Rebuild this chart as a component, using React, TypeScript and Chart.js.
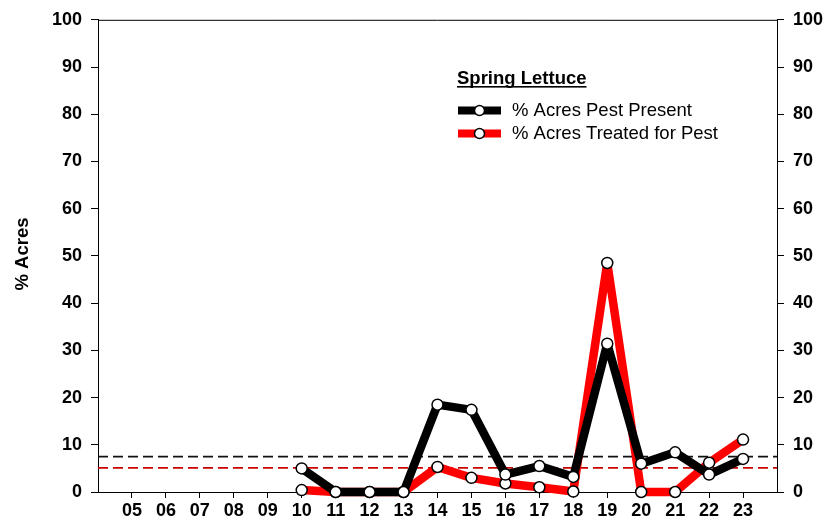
import React, { useEffect, useRef } from "react";
import { Chart, registerables } from "chart.js";

Chart.register(...registerables);

const years = ["10", "11", "12", "13", "14", "15", "16", "17", "18", "19", "20", "21", "22", "23"];
const pestPresent = [5.0, 0, 0, 0, 18.5, 17.4, 3.7, 5.5, 3.2, 31.4, 6.0, 8.4, 3.7, 7.0];
const treated = [0.4, 0, 0, 0, 5.3, 3.0, 1.8, 1.0, 0.1, 48.5, 0, 0, 6.2, 11.1];
const xTicks = [5, 6, 7, 8, 9, 10, 11, 12, 13, 14, 15, 16, 17, 18, 19, 20, 21, 22, 23];
const yTicks = [0, 10, 20, 30, 40, 50, 60, 70, 80, 90, 100];
const presentAvg = 7.5;
const treatedAvg = 5.1;
const legendTitle = "Spring Lettuce";
const seriesNames = ["% Acres Pest Present", "% Acres Treated for Pest"];
const yTitle = "% Acres";

const FONT = "'Liberation Sans', Arial, sans-serif";

const overlay = {
  id: "overlay",
  beforeDatasetsDraw(chart: any) {
    const { ctx, chartArea } = chart;
    const y = chart.scales.y;
    ctx.save();
    ctx.lineWidth = 1.6;
    ctx.setLineDash([10, 5]);
    [[presentAvg, "#111111"], [treatedAvg, "#cc0000"]].forEach(([v, c]: any) => {
      const py = y.getPixelForValue(v);
      ctx.strokeStyle = c;
      ctx.beginPath();
      ctx.moveTo(chartArea.left, py);
      ctx.lineTo(chartArea.right, py);
      ctx.stroke();
    });
    ctx.restore();
  },
  afterDraw(chart: any) {
    const { ctx, chartArea } = chart;
    ctx.save();
    ctx.strokeStyle = "#000";
    ctx.lineWidth = 1;
    ctx.beginPath();
    ctx.moveTo(chartArea.left, chartArea.top + 0.5);
    ctx.lineTo(chartArea.right, chartArea.top + 0.5);
    ctx.stroke();

    // y title
    ctx.save();
    ctx.translate(22.5, 254);
    ctx.rotate(-Math.PI / 2);
    ctx.font = `bold 18.5px ${FONT}`;
    ctx.fillStyle = "#000";
    ctx.textAlign = "center";
    ctx.textBaseline = "middle";
    ctx.fillText(yTitle, 0, 0);
    ctx.restore();

    // legend
    ctx.fillStyle = "#000";
    ctx.font = `bold 18.5px ${FONT}`;
    ctx.textAlign = "left";
    ctx.textBaseline = "alphabetic";
    ctx.fillText(legendTitle, 457, 84);
    const tw = ctx.measureText(legendTitle).width;
    ctx.fillRect(457, 86, tw, 1.6);

    const rows = [
      { y: 110.5, color: "#000000", text: seriesNames[0] },
      { y: 133.5, color: "#ff0000", text: seriesNames[1] },
    ];
    rows.forEach((r) => {
      ctx.strokeStyle = r.color;
      ctx.lineWidth = 8;
      ctx.setLineDash([]);
      ctx.beginPath();
      ctx.moveTo(458, r.y);
      ctx.lineTo(501, r.y);
      ctx.stroke();
      ctx.beginPath();
      ctx.arc(479.5, r.y, 5, 0, Math.PI * 2);
      ctx.fillStyle = "#fff";
      ctx.fill();
      ctx.lineWidth = 1.5;
      ctx.strokeStyle = "#000";
      ctx.stroke();
      ctx.fillStyle = "#000";
      ctx.font = `18.5px ${FONT}`;
      ctx.textBaseline = "middle";
      ctx.fillText(r.text, 512, r.y);
    });
    ctx.restore();
  },
};

export default function App() {
  const ref = useRef<HTMLCanvasElement>(null);
  useEffect(() => {
    if (!ref.current) return;
    const mk = (vals: number[]) => years.map((yr, i) => ({ x: Number(yr), y: vals[i] }));
    const ds = (label: string, vals: number[], color: string) => ({
      label,
      data: mk(vals),
      borderColor: color,
      backgroundColor: color,
      borderWidth: 8.5,
      borderJoinStyle: "bevel" as const,
      pointRadius: 5.5,
      pointBackgroundColor: "#ffffff",
      pointBorderColor: "#000000",
      pointBorderWidth: 1.5,
      tension: 0,
      clip: false as const,
    });
    const tickFont = { family: FONT, size: 18, weight: "bold" as const };
    const yAxis = (pos: "left" | "right", width: number) => ({
      type: "linear" as const,
      position: pos,
      min: 0,
      max: 100,
      afterBuildTicks: (s: any) => {
        s.ticks = yTicks.map((v) => ({ value: v }));
      },
      afterFit: (s: any) => {
        s.width = width;
      },
      grid: { drawOnChartArea: false, tickLength: 7, tickColor: "#000", tickWidth: 1 },
      border: { display: true, color: "#000", width: 1 },
      ticks: { font: tickFont, color: "#000", padding: 9 },
    });
    const chart = new Chart(ref.current, {
      type: "line",
      data: {
        datasets: [ds(seriesNames[0], pestPresent, "#000000"), ds(seriesNames[1], treated, "#ff0000")],
      },
      options: {
        responsive: false,
        animation: false,
        layout: { padding: { top: 17, left: 0, right: 0, bottom: 0 } },
        plugins: { legend: { display: false }, tooltip: { enabled: false } },
        scales: {
          x: {
            type: "linear",
            position: "bottom",
            min: 4,
            max: 24,
            afterBuildTicks: (s: any) => {
              s.ticks = xTicks.map((v) => ({ value: v }));
            },
            afterFit: (s: any) => {
              s.height = 29;
            },
            grid: { drawOnChartArea: false, tickLength: 6, tickColor: "#000" },
            border: { display: true, color: "#000", width: 1 },
            ticks: {
              font: tickFont,
              color: "#000",
              padding: 2,
              maxRotation: 0,
              autoSkip: false,
              callback: (v: any) => String(v).padStart(2, "0"),
            },
          },
          y: yAxis("left", 98),
          y2: yAxis("right", 51),
        },
      },
      plugins: [overlay],
    });
    return () => chart.destroy();
  }, []);
  return (
    <div style={{ position: "fixed", left: 0, top: 0, width: 828, height: 521, background: "#fff" }}>
      <canvas ref={ref} width={828} height={521} />
    </div>
  );
}
